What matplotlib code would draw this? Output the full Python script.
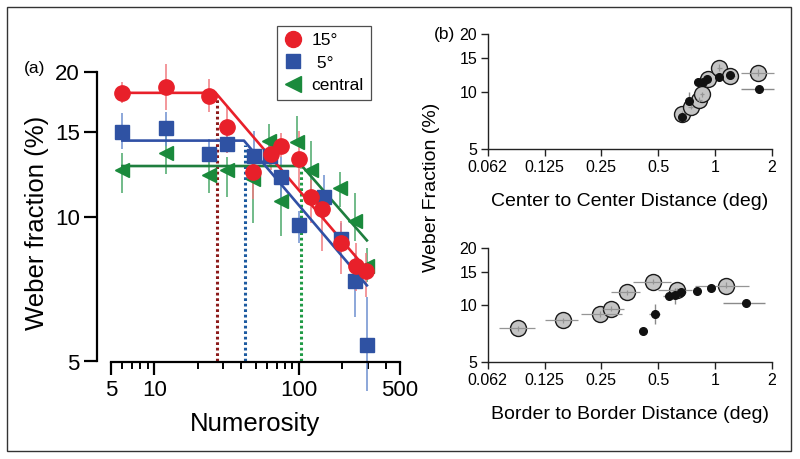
import matplotlib
matplotlib.use("Agg")
import matplotlib.pyplot as plt
from matplotlib.patches import Rectangle
from matplotlib.lines import Line2D
from matplotlib.ticker import FixedLocator, FixedFormatter, NullFormatter, NullLocator
import numpy as np

plt.rcParams['font.family'] = ['Liberation Sans', 'DejaVu Sans']

# ---------------- Panel (a) data ----------------
n_red = [6, 12, 24, 32, 48, 64, 75, 100, 122, 145, 195, 247, 291]
w_red = [18.1, 18.6, 17.8, 15.4, 12.4, 13.5, 14.0, 13.2, 11.0, 10.4, 8.8, 7.9, 7.7]
lo_red = [17.2, 16.7, 16.5, 13.6, 10.9, 12.5, 13.3, 11.3, 9.7, 8.5, 7.6, 7.0, 6.8]
hi_red = [19.1, 20.8, 19.3, 16.9, 13.6, 14.5, 14.9, 15.1, 11.9, 11.2, 9.8, 8.8, 8.4]

n_blue = [6, 12, 24, 32, 49, 63, 75, 100, 150, 195, 245, 295]
w_blue = [15.0, 15.3, 13.5, 14.2, 13.4, 13.4, 12.1, 9.6, 11.0, 9.0, 7.35, 5.42]
lo_blue = [13.8, 14.0, 13.0, 13.6, 12.6, 12.7, 10.9, 8.8, 9.9, 8.2, 6.2, 4.35]
hi_blue = [16.4, 16.5, 14.5, 14.8, 15.1, 14.4, 13.3, 10.3, 12.2, 9.7, 8.4, 6.8]

n_green = [6, 12, 24, 32, 48, 62, 75, 97, 122, 193, 245, 295]
w_green = [12.5, 13.6, 12.2, 12.5, 12.0, 14.4, 10.8, 14.3, 12.5, 11.5, 9.8, 7.9]
lo_green = [11.2, 12.3, 11.2, 11.0, 9.7, 13.4, 9.1, 14.2, 11.0, 10.5, 8.9, 7.3]
hi_green = [13.6, 14.7, 13.1, 13.3, 13.7, 15.6, 11.7, 16.2, 14.4, 12.4, 11.2, 8.6]

fit_x_red = [6, 26.5, 291]
fit_y_red = [18.1, 18.1, 7.8]
fit_x_blue = [6, 41.6, 295]
fit_y_blue = [14.4, 14.4, 7.2]
fit_x_green = [6, 105, 295]
fit_y_green = [12.75, 12.75, 8.93]

thresh_n = [27, 42, 103]
thresh_w = [17.9, 14.1, 12.6]

legend_labels = ['15°', ' 5°', 'central']

# ---------------- Panel (b) data ----------------
cc_gray_x = [0.672, 0.745, 0.827, 0.852, 0.922, 1.055, 1.2, 1.69]
cc_gray_y = [7.66, 8.36, 9.07, 9.7, 11.7, 13.4, 12.1, 12.6]
cc_gray_xlo = [0.65, 0.72, 0.80, 0.83, 0.90, 1.02, 1.16, 1.38]
cc_gray_xhi = [0.69, 0.77, 0.85, 0.88, 0.95, 1.09, 1.28, 2.05]
cc_gray_ylo = [7.4, 8.1, 8.8, 9.4, 11.3, 12.9, 11.7, 12.1]
cc_gray_yhi = [7.9, 8.6, 9.35, 10.0, 12.1, 13.9, 12.5, 13.1]

cc_blk_x = [0.672, 0.732, 0.817, 0.86, 0.91, 1.05, 1.2, 1.71]
cc_blk_y = [7.36, 8.99, 11.2, 11.3, 11.6, 12.0, 12.3, 10.3]
cc_blk_xlo = [0.66, 0.71, 0.80, 0.84, 0.89, 1.03, 1.18, 1.38]
cc_blk_xhi = [0.685, 0.75, 0.83, 0.88, 0.93, 1.07, 1.22, 2.05]
cc_blk_ylo = [7.2, 8.5, 11.0, 11.1, 11.4, 11.8, 12.1, 10.0]
cc_blk_yhi = [7.5, 10.0, 11.4, 11.5, 11.8, 12.2, 12.5, 10.6]

bb_gray_x = [0.0908, 0.157, 0.246, 0.28, 0.341, 0.472, 0.627, 1.14]
bb_gray_y = [7.56, 8.36, 9.0, 9.6, 11.7, 13.3, 12.0, 12.7]
bb_gray_xlo = [0.072, 0.126, 0.196, 0.254, 0.28, 0.37, 0.50, 0.785]
bb_gray_xhi = [0.111, 0.189, 0.32, 0.33, 0.40, 0.583, 0.76, 1.52]
bb_gray_ylo = [7.3, 8.1, 8.7, 9.3, 11.3, 12.9, 11.6, 12.3]
bb_gray_yhi = [7.8, 8.6, 9.3, 9.9, 12.1, 13.8, 12.4, 13.2]

bb_blk_x = [0.417, 0.481, 0.574, 0.614, 0.664, 0.80, 0.95, 1.46]
bb_blk_y = [7.35, 9.04, 11.2, 11.3, 11.7, 11.9, 12.3, 10.3]
bb_blk_xlo = [0.41, 0.45, 0.53, 0.60, 0.64, 0.78, 0.93, 1.11]
bb_blk_xhi = [0.425, 0.51, 0.60, 0.64, 0.70, 0.82, 0.97, 1.84]
bb_blk_ylo = [7.2, 8.0, 11.0, 10.2, 11.4, 11.7, 12.1, 9.9]
bb_blk_yhi = [7.5, 10.2, 11.4, 12.3, 12.0, 12.1, 12.5, 10.7]

W, H = 800, 459
fig = plt.figure(figsize=(W / 100, H / 100), dpi=100)

def px_axes(x0, y_top, x1, y_bot):
    return fig.add_axes([x0 / W, 1 - y_bot / H, (x1 - x0) / W, (y_bot - y_top) / H])

# outer frame
fig.add_artist(Rectangle((7 / W, 1 - 451 / H), (791 - 7) / W, (451 - 7) / H,
                         transform=fig.transFigure, fill=False, lw=1.0, ec='#333333'))

# ---------------- Panel (a) ----------------
ax = px_axes(111, 72, 400, 361.5)
ax.set_xscale('log')
ax.set_yscale('log')
ax.set_xlim(5, 500)
ax.set_ylim(5, 20)

RED, BLUE, GREEN = '#e8202a', '#2f52a3', '#1a8a3c'
RED_E, BLUE_E, GREEN_E = '#f07a80', '#6e8fd0', '#4aa86a'

def err(vals, lo, hi):
    v = np.array(vals); return [v - np.array(lo), np.array(hi) - v]

ax.errorbar(n_green, w_green, yerr=err(w_green, lo_green, hi_green), fmt='none',
            ecolor=GREEN_E, elinewidth=1.1, clip_on=False, zorder=2)
ax.errorbar(n_blue, w_blue, yerr=err(w_blue, lo_blue, hi_blue), fmt='none',
            ecolor=BLUE_E, elinewidth=1.1, clip_on=False, zorder=2)
ax.errorbar(n_red, w_red, yerr=err(w_red, lo_red, hi_red), fmt='none',
            ecolor=RED_E, elinewidth=1.1, clip_on=False, zorder=2)

ax.plot(fit_x_green, fit_y_green, color='#1e7e3e', lw=1.9, zorder=3)
ax.plot(fit_x_blue, fit_y_blue, color='#3050a5', lw=1.9, zorder=3)
ax.plot(fit_x_red, fit_y_red, color=RED, lw=1.9, zorder=3)

dot_cols = ['#8c1a1a', '#1c5aa0', '#1f9a45']
for n, w, c in zip(thresh_n, thresh_w, dot_cols):
    ax.plot([n, n], [5, w], color=c, lw=2.2, ls=(0, (0.9, 0.9)), zorder=2.5)

ax.plot(n_green, w_green, ls='none', marker='<', ms=10.5, color=GREEN, mec=GREEN, zorder=4, clip_on=False)
ax.plot(n_blue, w_blue, ls='none', marker='s', ms=9.5, color=BLUE, mec=BLUE, zorder=5, clip_on=False)
ax.plot(n_red, w_red, ls='none', marker='o', ms=11, color=RED, mec=RED, zorder=6, clip_on=False)

for s in ['top', 'right']:
    ax.spines[s].set_visible(False)
ax.spines['left'].set_position(('outward', 10))
for s in ['left', 'bottom']:
    ax.spines[s].set_linewidth(1.6)
ax.yaxis.set_major_locator(FixedLocator([5, 10, 15, 20]))
ax.yaxis.set_major_formatter(FixedFormatter(['5', '10', '15', '20']))
ax.yaxis.set_minor_locator(NullLocator())
ax.xaxis.set_major_locator(FixedLocator([5, 10, 100, 500]))
ax.xaxis.set_major_formatter(FixedFormatter(['5', '10', '100', '500']))
ax.xaxis.set_minor_locator(FixedLocator([6, 7, 8, 9, 20, 30, 40, 50, 60, 70, 80, 90, 200, 300, 400]))
ax.xaxis.set_minor_formatter(NullFormatter())
ax.tick_params(axis='y', which='major', length=9.5, width=1.6, labelsize=16, pad=3)
ax.tick_params(axis='x', which='major', length=9, width=1.6, labelsize=16, pad=4)
ax.tick_params(axis='x', which='minor', length=5, width=1.4)
ax.set_xlabel('Numerosity', fontsize=18.5, labelpad=8)
fig.text(37 / W, 1 - 223 / H, 'Weber fraction (%)', rotation=90, ha='center', va='center', fontsize=18.5)
fig.text(35 / W, 1 - 69 / H, '(a)', ha='center', va='center', fontsize=12.5)

handles = [Line2D([], [], ls='none', marker='o', ms=11.5, color=RED),
           Line2D([], [], ls='none', marker='s', ms=10.5, color=BLUE),
           Line2D([], [], ls='none', marker='<', ms=11.5, color=GREEN)]
leg = ax.legend(handles, legend_labels, loc='upper left', bbox_to_anchor=(277 / W, 1 - 26 / H),
                bbox_transform=fig.transFigure, fontsize=12.5, frameon=True, fancybox=False,
                handlelength=1.0, handletextpad=0.6, labelspacing=0.42, borderpad=0.4,
                borderaxespad=0)
leg.get_frame().set_edgecolor('#222222')
leg.get_frame().set_linewidth(0.9)

# ---------------- Panel (b) ----------------
def setup_b(axb, xlabel):
    axb.set_xscale('log', base=2)
    axb.set_yscale('log')
    axb.set_xlim(0.0625, 2)
    axb.set_ylim(5, 20)
    for s in ['top', 'right']:
        axb.spines[s].set_visible(False)
    for s in ['left', 'bottom']:
        axb.spines[s].set_linewidth(1.0)
        axb.spines[s].set_color('#222222')
    axb.xaxis.set_major_locator(FixedLocator([0.0625, 0.125, 0.25, 0.5, 1, 2]))
    axb.xaxis.set_major_formatter(FixedFormatter(['0.062', '0.125', '0.25', '0.5', '1', '2']))
    axb.xaxis.set_minor_locator(NullLocator())
    axb.yaxis.set_major_locator(FixedLocator([5, 10, 15, 20]))
    axb.yaxis.set_major_formatter(FixedFormatter(['5', '10', '15', '20']))
    axb.yaxis.set_minor_locator(NullLocator())
    axb.tick_params(axis='both', which='major', length=5, width=1.0, labelsize=11.5, pad=2.5,
                    color='#222222')
    axb.set_xlabel(xlabel, fontsize=14, labelpad=13)

def plot_b(axb, gx, gy, gxlo, gxhi, gylo, gyhi, bx, by, bxlo, bxhi, bylo, byhi):
    axb.plot(gx, gy, ls='none', marker='o', ms=11.5, mfc='#c4c4c4', mec='#1a1a1a', mew=1.0,
             zorder=3, clip_on=False)
    axb.errorbar(gx, gy, xerr=err(gx, gxlo, gxhi), yerr=err(gy, gylo, gyhi), fmt='none',
                 ecolor='#959595', elinewidth=0.9, zorder=4, clip_on=False)
    axb.errorbar(bx, by, xerr=err(bx, bxlo, bxhi), yerr=err(by, bylo, byhi), fmt='none',
                 ecolor='#8a8a8a', elinewidth=1.0, zorder=4.5, clip_on=False)
    axb.plot(bx, by, ls='none', marker='o', ms=5.5, color='#111111', zorder=5, clip_on=False)

ax1 = px_axes(487.7, 34.3, 771.7, 149.3)
setup_b(ax1, 'Center to Center Distance (deg)')
plot_b(ax1, cc_gray_x, cc_gray_y, cc_gray_xlo, cc_gray_xhi, cc_gray_ylo, cc_gray_yhi,
       cc_blk_x, cc_blk_y, cc_blk_xlo, cc_blk_xhi, cc_blk_ylo, cc_blk_yhi)

ax2 = px_axes(487.7, 248.3, 771.7, 362.3)
setup_b(ax2, 'Border to Border Distance (deg)')
plot_b(ax2, bb_gray_x, bb_gray_y, bb_gray_xlo, bb_gray_xhi, bb_gray_ylo, bb_gray_yhi,
       bb_blk_x, bb_blk_y, bb_blk_xlo, bb_blk_xhi, bb_blk_ylo, bb_blk_yhi)

fig.text(432 / W, 1 - 187 / H, 'Weber Fraction (%)', rotation=90, ha='center', va='center', fontsize=14)
fig.text(444 / W, 1 - 34 / H, '(b)', ha='center', va='center', fontsize=12.5)

fig.savefig('out.png', dpi=100)
